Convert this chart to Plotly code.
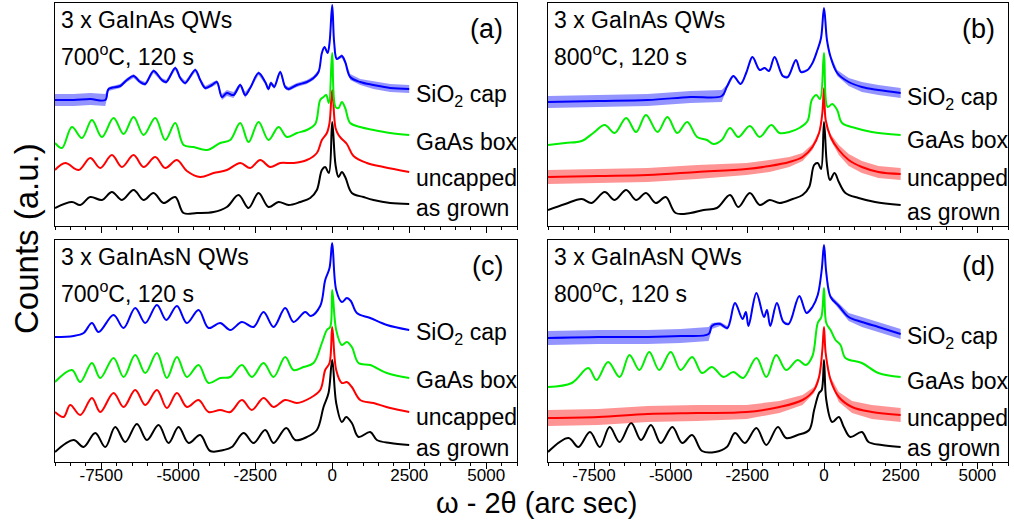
import plotly.graph_objects as go

# ---------------- data (x: arc sec, y: counts, arbitrary units, stacked) ----------------
# Panel (a): 3 x GaInAs QWs, 700 C, 120 s
A_CAP_X = [-9000,-8396,-7855,-7368,-7260,-6882,-6665,-6449,-6232,-6070,-5800,-5529,-5388,-5096,-4934,-4772,-4447,-4285,-4122,-3906,-3744,-3581,-3419,-3203,-2986,-2824,-2662,-2391,-2175,-2067,-1991,-1883,-1688,-1526,-1417,-1147,-822,-606,-444,-335,-249,-151,-87,0,65,151,314,422,584,909,1342,1883,2500]
A_CAP_Y = [126,126,127,126,137,140,146,150,144,142,155,146,144,158,148,143,156,146,138,141,144,129,133,131,141,131,138,153,144,137,143,139,154,139,137,141,144,148,154,173,179,173,183,221,183,167,170,164,149,144,141,138,137]
A_CAP_N = [6,6,6,6,2,2,2,2,2,2,2,2,2,2,2,2,2,2,2,2,2,3,3,3,2,3,2,2,2,2,2,2,2,2,2,2,2,2,2,1,1,1,1,0,1,1,2,2,3,3,4,4,4]
A_BOX_X = [-9000,-8775,-8450,-8126,-7801,-7477,-7098,-6773,-6449,-6124,-5745,-5421,-5096,-4826,-4501,-4068,-3636,-3311,-2986,-2716,-2391,-2067,-1742,-1472,-1147,-822,-552,-390,-281,-195,-108,0,108,206,314,422,584,909,1342,1883,2500]
A_BOX_Y = [83,78,99,88,106,89,108,92,109,91,108,86,103,81,79,76,83,86,103,84,104,86,99,89,93,96,102,126,129,131,123,173,119,118,124,118,103,99,96,93,91]
A_UNC_X = [-9000,-8667,-8234,-7855,-7531,-7152,-6827,-6449,-6124,-5745,-5421,-5042,-4718,-4285,-3852,-3419,-2986,-2662,-2337,-2013,-1688,-1255,-822,-498,-335,-173,-87,0,108,206,314,476,692,1125,1666,2500]
A_UNC_Y = [56,63,56,68,58,71,59,71,59,69,58,66,55,49,53,56,63,58,66,59,63,63,66,73,86,93,103,136,98,91,87,82,70,63,59,54]
A_GROWN_X = [-9000,-8450,-8180,-7855,-7477,-7152,-6827,-6449,-6124,-5800,-5475,-5096,-4826,-4393,-3852,-3419,-3040,-2716,-2391,-2067,-1742,-1417,-1039,-714,-498,-335,-227,-108,0,108,206,314,422,638,1017,1342,1883,2500]
A_GROWN_Y = [18,24,21,29,26,34,26,36,26,33,23,29,13,13,14,19,31,18,33,19,24,21,24,28,36,56,59,53,104,61,49,54,49,33,29,26,23,22]

# Panel (b): 3 x GaInAs QWs, 800 C, 120 s
B_CAP_X = [-9000,-7364,-5751,-4354,-3333,-3171,-2956,-2720,-2526,-2333,-2096,-1935,-1795,-1612,-1344,-1182,-914,-752,-537,-376,-215,-97,0,97,215,430,806,1236,1774,2500]
B_CAP_Y = [124,125,126,129,130,139,150,142,154,169,156,158,155,169,150,149,166,154,156,163,176,188,218,186,169,153,144,139,136,133]
B_CAP_N = [6,6,6,6,6,2,1,1,1,1,1,1,1,1,1,1,1,1,1,1,1,1,0,1,2,3,4,5,5,5]
B_BOX_X = [-9000,-8439,-7901,-7525,-7149,-6826,-6450,-6128,-5805,-5429,-5106,-4784,-4461,-4139,-3816,-3601,-3333,-3064,-2795,-2419,-2096,-1720,-1451,-1129,-806,-538,-398,-247,-129,0,118,269,430,591,1021,1559,2500]
B_BOX_Y = [81,83,85,93,101,93,108,94,111,94,109,93,104,89,86,82,86,98,89,100,89,101,93,94,98,105,126,131,127,173,119,122,116,103,98,94,91]
B_UNC_X = [-9000,-7364,-5751,-4139,-2526,-1774,-1129,-699,-376,-161,-54,0,54,215,484,806,1236,1774,2500]
B_UNC_Y = [49,50,51,54,57,60,64,69,79,93,113,138,106,89,76,66,59,54,52]
B_UNC_N = [7,7,7,7,6,6,5,4,3,2,1,0,1,3,5,6,6,6,6]
B_GROWN_X = [-9000,-8439,-7901,-7579,-7149,-6826,-6450,-6128,-5805,-5483,-5160,-4838,-4354,-3924,-3494,-3064,-2795,-2419,-2096,-1774,-1451,-1021,-699,-484,-322,-204,-97,0,97,194,344,484,699,1129,1666,2500]
B_GROWN_Y = [16,22,27,23,34,26,36,26,33,23,29,13,13,16,18,31,19,33,21,26,23,27,31,39,61,63,57,104,61,46,53,44,33,28,24,21]

# Panel (c): 3 x GaInAsN QWs, 700 C, 120 s
C_CAP_X = [-9000,-8396,-8072,-7801,-7585,-7098,-6773,-6395,-6070,-5691,-5388,-5042,-4718,-4339,-4014,-3636,-3311,-2932,-2554,-2229,-1904,-1526,-1255,-876,-692,-390,-227,-87,0,130,314,476,606,801,1234,1775,2500]
C_CAP_Y = [125,126,129,139,130,147,134,154,139,157,142,156,139,152,134,139,132,140,135,150,135,154,140,150,146,156,182,194,219,172,160,164,161,149,144,137,132]
C_BOX_X = [-9000,-8450,-8180,-7801,-7531,-7098,-6773,-6395,-6070,-5691,-5367,-5042,-4718,-4339,-4014,-3636,-3311,-2932,-2608,-2229,-1904,-1526,-1255,-931,-606,-335,-173,-65,0,130,314,476,638,855,1234,1775,2500]
C_BOX_Y = [80,92,80,99,84,104,85,107,89,109,84,105,85,97,79,84,85,97,85,99,85,105,92,95,99,119,132,135,172,132,117,120,115,99,97,89,84]
C_UNC_X = [-9000,-8721,-8505,-8180,-7801,-7531,-7098,-6773,-6395,-6070,-5691,-5367,-5042,-4718,-4339,-4014,-3636,-3311,-2932,-2608,-2229,-1904,-1526,-1147,-714,-390,-227,-87,0,130,314,476,638,909,1342,1883,2500]
C_UNC_Y = [50,45,57,47,64,50,69,55,72,57,72,54,69,55,62,50,52,50,62,52,64,55,62,59,64,72,92,99,135,92,79,80,75,62,59,54,50]
C_GROWN_X = [-9000,-8396,-8072,-7693,-7368,-7044,-6719,-6341,-6016,-5637,-5313,-4988,-4663,-4285,-3960,-3527,-3257,-2878,-2554,-2175,-1904,-1493,-1201,-822,-498,-281,-119,0,130,314,454,638,855,1234,1450,1883,2500]
C_GROWN_Y = [10,22,15,29,15,35,20,38,22,37,19,35,19,27,11,12,15,29,19,32,19,34,22,25,32,55,69,102,59,40,45,39,25,30,22,19,17]

# Panel (d): 3 x GaInAsN QWs, 800 C, 120 s
D_CAP_X = [-9000,-7364,-5751,-4676,-3763,-3655,-3386,-3150,-2903,-2655,-2548,-2462,-2204,-1957,-1860,-1752,-1537,-1322,-1150,-806,-570,-376,-204,-75,0,75,215,484,806,1236,1774,2500]
D_CAP_Y = [124,125,125,126,128,136,138,134,159,143,150,136,169,145,152,136,159,140,138,166,149,155,167,192,217,189,165,156,145,140,135,128]
D_CAP_N = [7,7,7,7,7,3,2,2,1,1,1,1,1,1,1,1,1,1,1,1,1,1,1,1,0,1,2,3,4,5,5,5]
D_BOX_X = [-9000,-8224,-7686,-7418,-7041,-6665,-6343,-6020,-5698,-5375,-4999,-4676,-4300,-3978,-3655,-3279,-2956,-2634,-2204,-1881,-1559,-1236,-860,-591,-376,-204,-86,0,75,215,376,538,699,1236,1774,2500]
D_BOX_Y = [75,79,94,82,100,85,107,92,110,92,110,92,105,89,95,85,90,84,104,85,107,92,102,97,106,139,145,174,139,132,122,117,104,99,89,85]
D_UNC_X = [-9000,-7364,-5751,-4139,-2526,-1451,-699,-322,-161,-54,0,54,215,484,914,1559,2500]
D_UNC_Y = [44,45,48,49,50,55,62,72,85,112,135,109,82,65,55,50,47]
D_UNC_N = [8,8,8,8,7,6,5,3,2,1,0,1,3,5,6,7,7]
D_GROWN_X = [-9000,-8331,-8009,-7633,-7310,-6988,-6665,-6289,-5966,-5644,-5321,-4945,-4623,-4300,-3978,-3548,-3171,-2903,-2580,-2204,-1881,-1505,-1236,-860,-484,-322,-161,-75,0,75,269,484,645,860,1236,1451,1881,2500]
D_GROWN_Y = [10,24,15,30,15,35,20,39,22,37,19,35,19,27,11,10,15,29,19,34,17,35,24,27,32,52,69,72,102,62,40,45,35,25,30,20,17,15]

SERIES_NAMES = ["SiO<sub>2</sub> cap", "GaAs box", "uncapped", "as grown"]
SERIES_COLORS = ["#0000ff", "#00ee00", "#ff0000", "#000000"]
SERIES_FILLS = ["rgba(0,0,255,0.42)", "rgba(0,238,0,0.42)", "rgba(255,0,0,0.42)", "rgba(0,0,0,0.42)"]
PANEL_LETTERS = ["(a)", "(b)", "(c)", "(d)"]
PANEL_LINE1 = ["3 x GaInAs QWs", "3 x GaInAs QWs", "3 x GaInAsN QWs", "3 x GaInAsN QWs"]
PANEL_LINE2 = ["700<sup>o</sup>C, 120 s", "800<sup>o</sup>C, 120 s", "700<sup>o</sup>C, 120 s", "800<sup>o</sup>C, 120 s"]
TICK_VALS = [-7500, -5000, -2500, 0, 2500, 5000]
TICK_TEXT = ["-7500", "-5000", "-2500", "0", "2500", "5000"]
X_RANGE = [-9000, 6000]
# label y positions (counts units) for each panel, per series
LABEL_Y = [[131, 84, 48, 18], [128, 86, 48, 14], [129, 82, 45, 14], [125, 81, 44, 14]]

# (x, y, noise half-width or None)
PANELS = [
    [(A_CAP_X, A_CAP_Y, A_CAP_N), (A_BOX_X, A_BOX_Y, None), (A_UNC_X, A_UNC_Y, None), (A_GROWN_X, A_GROWN_Y, None)],
    [(B_CAP_X, B_CAP_Y, B_CAP_N), (B_BOX_X, B_BOX_Y, None), (B_UNC_X, B_UNC_Y, B_UNC_N), (B_GROWN_X, B_GROWN_Y, None)],
    [(C_CAP_X, C_CAP_Y, None), (C_BOX_X, C_BOX_Y, None), (C_UNC_X, C_UNC_Y, None), (C_GROWN_X, C_GROWN_Y, None)],
    [(D_CAP_X, D_CAP_Y, D_CAP_N), (D_BOX_X, D_BOX_Y, None), (D_UNC_X, D_UNC_Y, D_UNC_N), (D_GROWN_X, D_GROWN_Y, None)],
]

# ---------------- layout geometry ----------------
W, H = 1014, 521
XDOM = [[55 / W, 517 / W], [548 / W, 1008 / W], [55 / W, 517 / W], [548 / W, 1008 / W]]
YDOM = [[1 - 226 / H, 1 - 3 / H], [1 - 226 / H, 1 - 3 / H], [1 - 462 / H, 1 - 240 / H], [1 - 462 / H, 1 - 240 / H]]
Y_RANGES = [[0, 223], [0, 223], [0, 222], [0, 222]]

FONT = "Liberation Sans, Arial, sans-serif"

fig = go.Figure()
for p, series in enumerate(PANELS):
    xa = "x" if p == 0 else f"x{p+1}"
    ya = "y" if p == 0 else f"y{p+1}"
    for s in [3, 2, 1, 0]:
        xs, ys, ns = series[s]
        assert len(xs) == len(ys)
        if ns is not None:
            assert len(ns) == len(xs)
            hi = [y + n for y, n in zip(ys, ns)]
            lo = [y - n for y, n in zip(ys, ns)]
            fig.add_trace(go.Scatter(
                x=list(xs) + list(xs)[::-1], y=hi + lo[::-1], xaxis=xa, yaxis=ya,
                mode="lines", fill="toself", fillcolor=SERIES_FILLS[s],
                line=dict(width=0, color=SERIES_COLORS[s]),
                showlegend=False, hoverinfo="skip"))
        fig.add_trace(go.Scatter(
            x=xs, y=ys, xaxis=xa, yaxis=ya, mode="lines",
            line=dict(color=SERIES_COLORS[s], width=2, shape="spline", smoothing=1.0),
            showlegend=False, hoverinfo="skip"))
    # series labels
    for s in range(4):
        fig.add_annotation(x=2640, y=LABEL_Y[p][s], xref=xa, yref=ya, text=SERIES_NAMES[s],
                           showarrow=False, xanchor="left", yanchor="middle",
                           font=dict(family=FONT, size=23, color="black"))
    # panel headings
    dref_x = f"{xa} domain"
    dref_y = f"{ya} domain"
    fig.add_annotation(x=0.008, y=0.925, xref=dref_x, yref=dref_y, text=PANEL_LINE1[p],
                       showarrow=False, xanchor="left", yanchor="middle",
                       font=dict(family=FONT, size=23, color="black"))
    fig.add_annotation(x=0.008, y=0.765, xref=dref_x, yref=dref_y, text=PANEL_LINE2[p],
                       showarrow=False, xanchor="left", yanchor="middle",
                       font=dict(family=FONT, size=23, color="black"))
    fig.add_annotation(x=0.975, y=0.885, xref=dref_x, yref=dref_y, text=PANEL_LETTERS[p],
                       showarrow=False, xanchor="right", yanchor="middle",
                       font=dict(family=FONT, size=27, color="black"))

    axkey = "xaxis" if p == 0 else f"xaxis{p+1}"
    aykey = "yaxis" if p == 0 else f"yaxis{p+1}"
    fig.update_layout(**{
        axkey: dict(domain=XDOM[p], range=X_RANGE, anchor=ya, showgrid=False, zeroline=False,
                    showline=True, linecolor="black", linewidth=1, mirror=True,
                    ticks="outside", ticklen=6, tickwidth=1, tickcolor="black",
                    tickmode="array", tickvals=TICK_VALS, ticktext=TICK_TEXT,
                    showticklabels=(p >= 2), ticklabelstandoff=-8,
                    tickfont=dict(family=FONT, size=17, color="black"),
                    minor=dict(dtick=500, tick0=0, ticks="outside", ticklen=3, tickcolor="black", showgrid=False)),
        aykey: dict(domain=YDOM[p], range=Y_RANGES[p], anchor=xa, showgrid=False, zeroline=False,
                    showline=True, linecolor="black", linewidth=1, mirror=True,
                    ticks="", showticklabels=False),
    })

# axis titles
fig.add_annotation(x=537 / W, y=1 - 503 / H, xref="paper", yref="paper",
                   text="ω - 2θ (arc sec)",
                   showarrow=False, xanchor="center", yanchor="middle",
                   font=dict(family=FONT, size=29, color="black"))
fig.add_annotation(x=26 / W, y=1 - 239 / H, xref="paper", yref="paper", text="Counts (a.u.)",
                   textangle=-90, showarrow=False, xanchor="center", yanchor="middle",
                   font=dict(family=FONT, size=33, color="black"))

fig.update_layout(width=W, height=H, margin=dict(l=0, r=0, t=0, b=0),
                  paper_bgcolor="white", plot_bgcolor="white")
fig.write_html("out.html")
